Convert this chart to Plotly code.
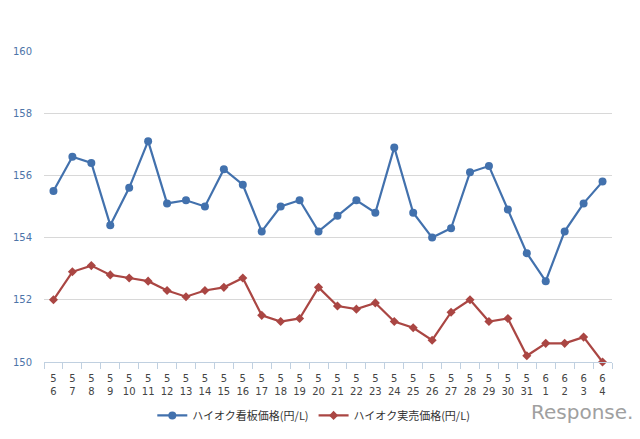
import plotly.graph_objects as go

months = ["5"] * 26 + ["6"] * 4
days = [str(d) for d in range(6, 32)] + ["1", "2", "3", "4"]
categories = [f"{m}<br>{d}" for m, d in zip(months, days)]

signboard = [155.5, 156.6, 156.4, 154.4, 155.6, 157.1, 155.1, 155.2, 155.0, 156.2,
             155.7, 154.2, 155.0, 155.2, 154.2, 154.7, 155.2, 154.8, 156.9, 154.8,
             154.0, 154.3, 156.1, 156.3, 154.9, 153.5, 152.6, 154.2, 155.1, 155.8]
actual = [152.0, 152.9, 153.1, 152.8, 152.7, 152.6, 152.3, 152.1, 152.3, 152.4,
          152.7, 151.5, 151.3, 151.4, 152.4, 151.8, 151.7, 151.9, 151.3, 151.1,
          150.7, 151.6, 152.0, 151.3, 151.4, 150.2, 150.6, 150.6, 150.8, 150.0]
y_ticks = [150, 152, 154, 156, 158, 160]

fig = go.Figure()
fig.add_trace(go.Scatter(
    x=categories, y=signboard, mode="lines+markers", name="ハイオク看板価格(円/L)",
    line=dict(color="#4271ad", width=2.2),
    marker=dict(symbol="circle", size=8, color="#4271ad"),
    cliponaxis=False))
fig.add_trace(go.Scatter(
    x=categories, y=actual, mode="lines+markers", name="ハイオク実売価格(円/L)",
    line=dict(color="#aa4643", width=2.2),
    marker=dict(symbol="diamond", size=7, color="#aa4643"),
    cliponaxis=False))

fig.update_layout(
    width=640, height=439,
    margin=dict(l=44, r=28, t=51, b=77, autoexpand=False),
    paper_bgcolor="white", plot_bgcolor="white",
    font=dict(family="Noto Sans CJK JP, DejaVu Sans, sans-serif", size=10, color="#333"),
    showlegend=True,
    legend=dict(orientation="h", x=0.475, xanchor="center", y=-0.125, yanchor="top",
                font=dict(size=11, color="#333"), itemwidth=30, bgcolor="rgba(0,0,0,0)"),
    xaxis=dict(type="category", tickson="boundaries", ticks="outside", ticklen=6,
               tickcolor="#c0d0e0", showline=True, linecolor="#c0d0e0", linewidth=1,
               showgrid=False, tickangle=0, automargin=False, ticklabelstandoff=7,
               tickfont=dict(size=10, color="#444", family="DejaVu Sans, sans-serif"),
               range=[-0.5, len(categories) - 0.5]),
    yaxis=dict(range=[150, 160], tickvals=y_ticks, showgrid=True, gridcolor="#d8d8d8",
               gridwidth=1, zeroline=False, showline=False, automargin=False,
               tickfont=dict(size=10, color="#4d74a8", family="DejaVu Sans, sans-serif"),
               ticklabelstandoff=11),
    annotations=[dict(text="Response.", x=1.04, xref="paper", y=-0.115, yref="paper",
                      xanchor="right", yanchor="top", showarrow=False,
                      font=dict(size=20, color="#a0a0a0", family="DejaVu Sans, sans-serif"))],
)

fig.write_html("out.html")
